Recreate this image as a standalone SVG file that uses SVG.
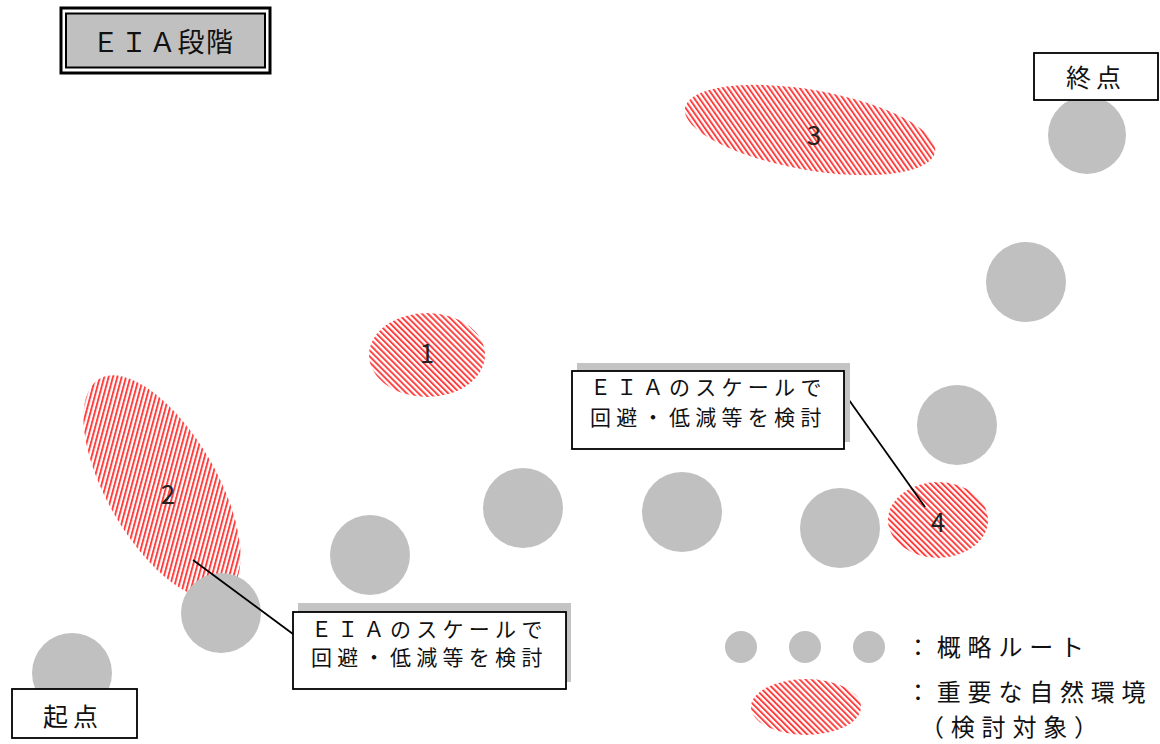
<svg xmlns="http://www.w3.org/2000/svg" width="1160" height="744" viewBox="0 0 1160 744">
<defs>
<pattern id="hatch" patternUnits="userSpaceOnUse" width="4.2" height="4.2" patternTransform="rotate(-45)">
<rect width="4.2" height="4.2" fill="#ffffff"/>
<line x1="1" y1="-1" x2="1" y2="6" stroke="#ff3838" stroke-width="1.9"/>
</pattern>
<style>
.route{fill:#c0c0c0}
.env{fill:url(#hatch)}
.box{fill:#ffffff;stroke:#000;stroke-width:1.8}
.shadow{fill:#c4c4c4}
.t{font-family:"Noto Sans CJK JP","Noto Sans",sans-serif;fill:#111}
.num{font-family:"Noto Sans CJK JP","Noto Sans",sans-serif;font-size:26px;fill:#222;text-anchor:middle}
.conn{stroke:#000;stroke-width:1.8;fill:none}
</style>
</defs>
<rect width="1160" height="744" fill="#ffffff"/>

<g id="env-1"><ellipse class="env" cx="427" cy="355" rx="58" ry="42"/><text class="num" x="427" y="363">1</text></g>
<g id="env-2"><ellipse class="env" cx="162" cy="487" rx="125" ry="55" transform="rotate(60 162 487)"/><text class="num" x="168" y="504">2</text></g>
<g id="env-3"><ellipse class="env" cx="810" cy="130" rx="127" ry="40" transform="rotate(10 810 130)"/><text class="num" x="814" y="145">3</text></g>
<g id="env-4"><ellipse class="env" cx="938" cy="520" rx="50" ry="38"/></g>

<g id="route">
<circle class="route" cx="72" cy="673" r="40"/>
<circle class="route" cx="221" cy="613" r="40"/>
<circle class="route" cx="370" cy="555" r="40"/>
<circle class="route" cx="523" cy="508" r="40"/>
<circle class="route" cx="682" cy="512" r="40"/>
<circle class="route" cx="840" cy="528" r="40"/>
<circle class="route" cx="957" cy="425" r="40"/>
<circle class="route" cx="1026" cy="282" r="40"/>
<circle class="route" cx="1087" cy="135" r="39"/>
</g>

<g id="connectors">
<line class="conn" x1="844" y1="393" x2="925" y2="507"/>
<line class="conn" x1="193" y1="560" x2="293" y2="634"/>
</g>
<text class="num" x="938" y="532">4</text>

<g id="title">
<rect x="61" y="8" width="209" height="65" fill="#ffffff" stroke="#000" stroke-width="3"/>
<rect x="66" y="13.5" width="199" height="54" fill="#c0c0c0" stroke="#000" stroke-width="2"/>
<text class="t" x="92" y="52" font-size="27" letter-spacing="1.5">ＥＩＡ段階</text>
</g>

<g id="start">
<rect class="box" x="12" y="689" width="125" height="49"/>
<text class="t" x="43" y="726" font-size="25" letter-spacing="5">起点</text>
</g>

<g id="end">
<rect class="box" x="1034" y="53" width="124" height="47"/>
<text class="t" x="1066" y="87" font-size="25" letter-spacing="5">終点</text>
</g>

<g id="callout-a">
<rect class="shadow" x="577" y="363" width="273" height="79"/>
<rect class="box" x="572" y="371" width="272" height="78"/>
<text class="t" x="590" y="395" font-size="21" letter-spacing="5.3">ＥＩＡのスケールで</text>
<text class="t" x="590" y="425" font-size="21" letter-spacing="5.3">回避・低減等を検討</text>
</g>

<g id="callout-b">
<rect class="shadow" x="298" y="603" width="273" height="79"/>
<rect class="box" x="293" y="612" width="273" height="77"/>
<text class="t" x="311" y="637" font-size="21" letter-spacing="5.3">ＥＩＡのスケールで</text>
<text class="t" x="311" y="665" font-size="21" letter-spacing="5.3">回避・低減等を検討</text>
</g>

<g id="legend">
<circle class="route" cx="741" cy="647" r="16"/>
<circle class="route" cx="805" cy="647" r="16"/>
<circle class="route" cx="869" cy="647" r="16"/>
<ellipse class="env" cx="806" cy="707" rx="55" ry="28"/>
<text class="t" x="906" y="656" font-size="24" letter-spacing="6.8">：概略ルート</text>
<text class="t" x="906" y="701" font-size="24" letter-spacing="6.8">：重要な自然環境</text>
<text class="t" x="920" y="736" font-size="24" letter-spacing="6.8">（検討対象）</text>
</g>
</svg>
